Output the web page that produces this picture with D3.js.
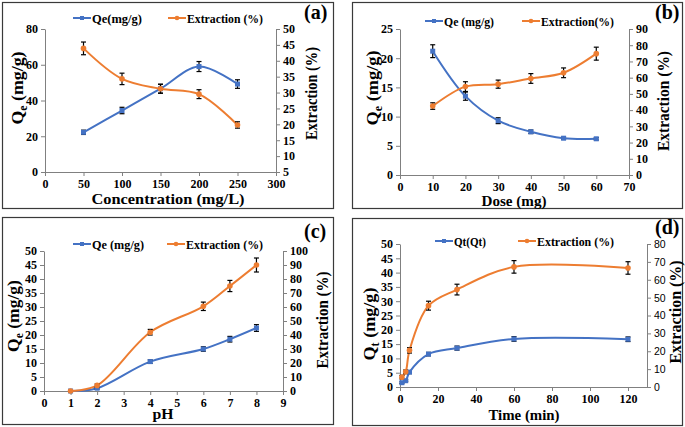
<!DOCTYPE html>
<html><head><meta charset="utf-8">
<script src="https://cdn.jsdelivr.net/npm/d3@7"></script>
<style>body{margin:0;background:#fff}svg{display:block}
svg text{font-family:"Liberation Serif","Times New Roman",serif;font-weight:bold;}
svg text.sans{font-family:"Liberation Sans",Arial,sans-serif;font-weight:normal;}
</style>
</head><body><svg id="c" width="685" height="427"></svg>
<script>
// Panel (a)
const aX = [50, 100, 150, 200, 250];
const aQe = [22.2, 34.4, 46.6, 59.0, 49.2];
const aQeErr = [1.2, 1.8, 2.5, 2.8, 2.4];
const aExt = [43.9, 34.3, 31.2, 29.5, 19.8];
const aExtErr = [2.0, 1.8, 1.4, 1.4, 1.0];
// Panel (b)
const bX = [10, 20, 30, 40, 50, 60];
const bQe = [21.2, 13.5, 9.3, 7.4, 6.3, 6.2];
const bQeErr = [1.1, 0.7, 0.5, 0.3, 0.2, 0.2];
const bExt = [42.5, 54.5, 56.0, 59.5, 63.0, 74.8];
const bExtErr = [2.0, 3.0, 2.5, 3.0, 3.0, 4.0];
// Panel (c)
const cX = [1, 2, 4, 6, 7, 8];
const cQe = [0, 1.0, 10.5, 15.0, 18.5, 22.5];
const cQeErr = [0, 0.3, 0.6, 0.8, 1.0, 1.2];
const cExt = [0, 4.0, 42.0, 60.5, 75.0, 90.0];
const cExtErr = [0, 1.0, 2.0, 3.0, 4.0, 5.0];
// Panel (d)
const dX = [1, 3, 5, 15, 30, 60, 120];
const dQt = [1.5, 2.2, 5.2, 11.5, 13.6, 16.8, 16.7];
const dQtErr = [0.3, 0.3, 0.5, 0.6, 0.7, 0.8, 0.8];
const dExt = [5.5, 8.5, 20.5, 45.5, 54.5, 67.2, 66.6];
const dExtErr = [1.0, 1.0, 1.5, 2.5, 3.0, 3.5, 3.5];

const BLUE = "#4472C4", ORANGE = "#ED7D31";
const svg = d3.select("#c");

const panels = [
  {box:[2,2,333,208], plot:[45,276,29,172], xDom:[0,300], xTicks:d3.range(0,301,50),
   yL:[0,80], yLTicks:d3.range(0,81,20), yR:[5,50], yRTicks:d3.range(5,51,5),
   x:aX, q:aQe, qe:aQeErr, e:aExt, ee:aExtErr,
   legQ:"Qe(mg/g)", legE:"Extraction (%)", legY:18, legQx:73, legEx:168, legQL:50, legEL:76,
   label:"(a)", labX:304, labY:19,
   xTitle:"Concentration (mg/L)", xT:[168,204,153],
   yT:[23,88,73], yTitleSub:"e", rT:[317,93.5,93], sansR:false},
  {box:[352,2,682,208], plot:[400,629,29,175], xDom:[0,70], xTicks:d3.range(0,71,10),
   yL:[0,25], yLTicks:d3.range(0,26,5), yR:[0,90], yRTicks:d3.range(0,91,10),
   x:bX, q:bQe, qe:bQeErr, e:bExt, ee:bExtErr,
   legQ:"Qe (mg/g)", legE:"Extraction(%)", legY:21, legQx:425, legEx:522, legQL:50, legEL:73,
   label:"(b)", labX:655, labY:19,
   xTitle:"Dose (mg)", xT:[514,206,65],
   yT:[378,88,75], yTitleSub:"e", rT:[669,101,100], sansR:false},
  {box:[2,217,333,424], plot:[44,283,251,391], xDom:[0,9], xTicks:d3.range(0,10,1),
   yL:[0,50], yLTicks:d3.range(0,51,5), yR:[0,100], yRTicks:d3.range(0,101,10),
   x:cX, q:cQe, qe:cQeErr, e:cExt, ee:cExtErr,
   legQ:"Qe (mg/g)", legE:"Extraction (%)", legY:244, legQx:73, legEx:167, legQL:52, legEL:77,
   label:"(c)", labX:304, labY:238,
   xTitle:"pH", xT:[163,419,21],
   yT:[19,316,72], yTitleSub:"e", rT:[328,320,97], sansR:false},
  {box:[352,218,682,425], plot:[400,647,244,387], xDom:[0,130], xTicks:d3.range(0,121,20),
   yL:[0,50], yLTicks:d3.range(0,51,5), yR:[0,80], yRTicks:d3.range(0,81,10),
   x:dX, q:dQt, qe:dQtErr, e:dExt, ee:dExtErr,
   legQ:"Qt(Qt)", legE:"Extraction (%)", legY:241, legQx:435, legEx:518, legQL:32, legEL:77,
   label:"(d)", labX:655, labY:234,
   xTitle:"Time (min)", xT:[524,420,71],
   yT:[375,324,73], yTitleSub:"t", rT:[681,312,103], sansR:true}
];

panels.forEach(p => {
  const g = svg.append("g");
  const [bx0,by0,bx1,by1] = p.box;
  g.append("rect").attr("x",bx0+0.5).attr("y",by0+0.5).attr("width",bx1-bx0).attr("height",by1-by0)
    .attr("fill","none").attr("stroke","#3a3a3a").attr("stroke-width",1.2);
  const [px0,px1,py0,py1] = p.plot;
  const x = d3.scaleLinear().domain(p.xDom).range([px0,px1]);
  const yl = d3.scaleLinear().domain(p.yL).range([py1,py0]);
  const yr = d3.scaleLinear().domain(p.yR).range([py1,py0]);

  const styleAxis = (sel, sans) => {
    sel.attr("font-family",null).attr("font-size",null);
    sel.select(".domain").attr("stroke","#808080");
    sel.selectAll(".tick line").attr("stroke","#808080");
    sel.selectAll("text").style("font-size", sans ? "10.5px" : "12px").attr("fill","#000")
      .classed("sans", !!sans);
  };
  g.append("g").attr("transform",`translate(0,${py1})`)
    .call(d3.axisBottom(x).tickValues(p.xTicks).tickSize(4).tickSizeOuter(0).tickPadding(3))
    .call(s=>styleAxis(s,false));
  g.append("g").attr("transform",`translate(${px0},0)`)
    .call(d3.axisLeft(yl).tickValues(p.yLTicks).tickSize(4).tickSizeOuter(0).tickPadding(3))
    .call(s=>styleAxis(s,false));
  g.append("g").attr("transform",`translate(${px1},0)`)
    .call(d3.axisRight(yr).tickValues(p.yRTicks).tickSize(4).tickSizeOuter(0).tickPadding(3))
    .call(s=>styleAxis(s,p.sansR));

  const qData = p.x.map((v,i)=>({x:v,y:p.q[i],err:p.qe[i]}));
  const eData = p.x.map((v,i)=>({x:v,y:p.e[i],err:p.ee[i]}));
  const curve = d3.curveCatmullRom.alpha(0.5);

  g.append("path").datum(qData).attr("fill","none").attr("stroke",BLUE).attr("stroke-width",2)
    .attr("d", d3.line().x(d=>x(d.x)).y(d=>yl(d.y)).curve(curve));
  g.append("path").datum(eData).attr("fill","none").attr("stroke",ORANGE).attr("stroke-width",2)
    .attr("d", d3.line().x(d=>x(d.x)).y(d=>yr(d.y)).curve(curve));

  const errs = (data, ys) => {
    const eg = g.append("g").attr("stroke","#000").attr("stroke-width",1.2);
    data.filter(d=>d.err>0).forEach(d=>{
      const cx = x(d.x), t = ys(d.y+d.err), b = ys(d.y-d.err);
      eg.append("line").attr("x1",cx).attr("x2",cx).attr("y1",t).attr("y2",b);
      eg.append("line").attr("x1",cx-2.5).attr("x2",cx+2.5).attr("y1",t).attr("y2",t);
      eg.append("line").attr("x1",cx-2.5).attr("x2",cx+2.5).attr("y1",b).attr("y2",b);
    });
  };
  errs(qData, yl); errs(eData, yr);

  g.selectAll(null).data(qData).enter().append("rect")
    .attr("x",d=>x(d.x)-2.5).attr("y",d=>yl(d.y)-2.5).attr("width",5).attr("height",5).attr("fill",BLUE);
  g.selectAll(null).data(eData).enter().append("circle")
    .attr("cx",d=>x(d.x)).attr("cy",d=>yr(d.y)).attr("r",2.8).attr("fill",ORANGE);

  const leg = (lx, color, text, shape, len) => {
    g.append("line").attr("x1",lx).attr("x2",lx+18).attr("y1",p.legY).attr("y2",p.legY)
      .attr("stroke",color).attr("stroke-width",2);
    if (shape==="sq") g.append("rect").attr("x",lx+9-2).attr("y",p.legY-2).attr("width",4).attr("height",4).attr("fill",color);
    else g.append("circle").attr("cx",lx+9).attr("cy",p.legY).attr("r",2.3).attr("fill",color);
    g.append("text").attr("x",lx+19).attr("y",p.legY+4.5).text(text).style("font-size","13.5px")
      .attr("textLength",len).attr("lengthAdjust","spacingAndGlyphs");
  };
  leg(p.legQx, BLUE, p.legQ, "sq", p.legQL);
  leg(p.legEx, ORANGE, p.legE, "c", p.legEL);

  g.append("text").attr("x",p.labX).attr("y",p.labY).text(p.label).style("font-size","20px");

  g.append("text").attr("x",p.xT[0]-p.xT[2]/2).attr("y",p.xT[1]).text(p.xTitle)
    .style("font-size","15.5px").attr("textLength",p.xT[2]).attr("lengthAdjust","spacingAndGlyphs");

  const yt = g.append("text").attr("transform",`translate(${p.yT[0]},${p.yT[1]+p.yT[2]/2}) rotate(-90)`)
    .style("font-size","17.5px").attr("textLength",p.yT[2]).attr("lengthAdjust","spacingAndGlyphs");
  yt.append("tspan").text("Q");
  yt.append("tspan").text(p.yTitleSub).style("font-size","11.5px").attr("dy","4");
  yt.append("tspan").text(" (mg/g)").attr("dy","-4");

  g.append("text").attr("transform",`translate(${p.rT[0]},${p.rT[1]+p.rT[2]/2}) rotate(-90)`)
    .text("Extraction (%)").style("font-size","17px")
    .attr("textLength",p.rT[2]).attr("lengthAdjust","spacingAndGlyphs");
});
</script></body></html>
